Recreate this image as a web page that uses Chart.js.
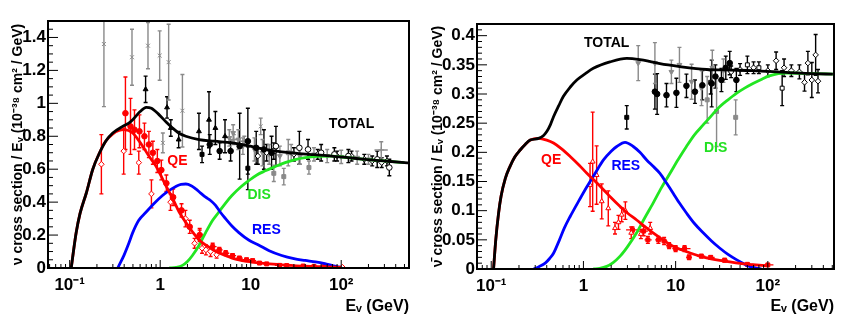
<!DOCTYPE html>
<html>
<head>
<meta charset="utf-8">
<script src="https://cdn.jsdelivr.net/npm/chart.js@4.4.0/dist/chart.umd.min.js"></script>
<style>
  html, body { margin: 0; padding: 0; background: #fff; }
  #wrap { position: relative; width: 850px; height: 324px; }
  .panel { position: absolute; top: 0; height: 324px; }
  #nuPanel { left: 0; width: 420px; }
  #nubarPanel { left: 420px; width: 430px; }
</style>
</head>
<body>
<div id="wrap">
  <div class="panel" id="nuPanel"><canvas id="nuChart"></canvas></div>
  <div class="panel" id="nubarPanel"><canvas id="nubarChart"></canvas></div>
</div>
<script>
const FONT = "'Liberation Sans', Arial, sans-serif";

// energy axis, shared by both panels
const energyTicks = [0.1, 1, 10, 100];
const energyTickLabels = ["10⁻¹", "1", "10", "10²"];

// ---------- neutrino panel ----------
const nuYTicks = [0, 0.2, 0.4, 0.6, 0.8, 1, 1.2, 1.4];

// model curves [E, sigma/E]
const nuTotal = [
  [0.104, 0], [0.11, 0.1], [0.118, 0.215], [0.13, 0.33], [0.153, 0.457], [0.18, 0.6],
  [0.214, 0.7], [0.25, 0.77], [0.299, 0.82], [0.385, 0.86], [0.45, 0.88], [0.497, 0.9],
  [0.6, 0.95], [0.7, 0.976], [0.8, 0.97], [0.975, 0.93], [1.17, 0.885], [1.37, 0.85],
  [1.6, 0.82], [1.92, 0.8], [2.68, 0.78], [4, 0.77], [6.2, 0.76], [9, 0.745],
  [14.5, 0.72], [22, 0.705], [33.7, 0.695], [50, 0.688], [78.6, 0.68], [120, 0.67],
  [183, 0.66], [300, 0.65], [500, 0.64], [560, 0.638]
];
const nuQE = [
  [0.104, 0], [0.11, 0.1], [0.118, 0.215], [0.13, 0.33], [0.153, 0.457], [0.18, 0.6],
  [0.214, 0.7], [0.25, 0.77], [0.3, 0.815], [0.35, 0.835], [0.4, 0.84], [0.497, 0.82],
  [0.57, 0.78], [0.64, 0.74], [0.75, 0.68], [0.897, 0.62], [1.0, 0.57], [1.155, 0.5],
  [1.38, 0.42], [1.62, 0.34], [1.9, 0.28], [2.27, 0.22], [2.7, 0.17], [3.18, 0.14],
  [4, 0.105], [5.27, 0.076], [7, 0.052], [10.3, 0.036], [15, 0.026], [24, 0.018],
  [40, 0.011], [65, 0.007], [100, 0.004]
];
const nuRES = [
  [0.34, 0], [0.4, 0.08], [0.45, 0.15], [0.497, 0.215], [0.58, 0.29], [0.7, 0.34],
  [0.85, 0.39], [1.06, 0.44], [1.25, 0.47], [1.49, 0.495], [1.7, 0.508], [1.92, 0.51],
  [2.2, 0.5], [2.47, 0.48], [2.8, 0.455], [3.18, 0.43], [3.6, 0.41], [4.09, 0.38],
  [4.6, 0.34], [5.27, 0.3], [6.2, 0.255], [7.4, 0.215], [9.5, 0.17], [12.2, 0.14],
  [16, 0.105], [22, 0.076], [30, 0.057], [39.9, 0.046], [52, 0.037], [66, 0.026],
  [80, 0.015], [100, 0.004]
];
const nuDIS = [
  [1.26, 0], [1.5, 0.004], [1.76, 0.016], [2.0, 0.04], [2.27, 0.076], [2.7, 0.14],
  [3.18, 0.215], [3.8, 0.29], [4.45, 0.34], [5.2, 0.39], [6.2, 0.44], [7.7, 0.49],
  [9.5, 0.53], [11.7, 0.565], [14.5, 0.59], [18.5, 0.615], [24, 0.64], [31, 0.658],
  [39.9, 0.67], [55, 0.678], [78.6, 0.68], [120, 0.67], [183, 0.66], [300, 0.65], [500, 0.64]
];

// measurements [E, value, error, (E low, E high)]
const nuGreyX = [
  [0.239, 1.36, 0.38], [0.488, 1.28, 0.17], [0.733, 1.35, 0.14], [0.987, 1.29, 0.15],
  [1.24, 1.25, 0.23], [1.76, 0.955, 0.22], [1.07, 0.76, 0.06], [12.9, 0.86, 0.05]
];
const nuBlackTri = [
  [0.69, 1.085, 0.08], [1.19, 0.975, 0.065], [1.31, 0.85, 0.05], [1.6, 0.78, 0.05],
  [2.68, 0.83, 0.11], [3.46, 0.9, 0.17], [4.07, 0.85, 0.1], [5.2, 0.8, 0.1]
];
const nuBlackDot = [
  [3.53, 0.75, 0.06], [4.54, 0.71, 0.05], [6.0, 0.71, 0.06], [7.55, 0.74, 0.2],
  [9.3, 0.77, 0.2], [11.5, 0.73, 0.1], [14, 0.72, 0.12], [17, 0.7, 0.1]
];
const nuBlackSq = [[2.9, 0.69, 0.05], [9.3, 0.606, 0.13]];
const nuGreyTriDown = [
  [5.8, 0.79, 0.05], [6.4, 0.82, 0.05], [7.3, 0.78, 0.06], [8.2, 0.74, 0.05],
  [11, 0.72, 0.07], [13.5, 0.7, 0.08], [16, 0.69, 0.06], [21, 0.68, 0.06],
  [28, 0.7, 0.05], [35, 0.68, 0.05], [50, 0.69, 0.04], [70, 0.68, 0.04],
  [100, 0.675, 0.04], [150, 0.67, 0.04], [200, 0.66, 0.03]
];
const nuGreySq = [[18, 0.575, 0.05], [23.2, 0.555, 0.05], [44, 0.61, 0.04], [26, 0.7, 0.08]];
const nuOpenDot = [
  [18, 0.71, 0.05], [19, 0.74, 0.12], [34.5, 0.73, 0.1], [43, 0.72, 0.06], [60, 0.7, 0.05],
  [84, 0.69, 0.04], [120, 0.68, 0.04], [250, 0.66, 0.05], [340, 0.61, 0.05]
];
const nuOpenDiamond = [
  [12, 0.68, 0.05], [15, 0.7, 0.05], [30, 0.69, 0.04], [55, 0.69, 0.03], [90, 0.68, 0.03],
  [130, 0.68, 0.03], [180, 0.66, 0.03], [220, 0.65, 0.03], [280, 0.64, 0.03], [320, 0.65, 0.03]
];
const nuGreyPlus = [[277, 0.717, 0.05, 233, 327], [6.5, 0.78, 0.03, 5.8, 7.3], [8.5, 0.77, 0.03, 7.6, 9.5]];
const nuQeDot = [
  [0.413, 0.94, 0.22], [0.47, 0.86, 0.17], [0.52, 0.84, 0.12], [0.59, 0.83, 0.1],
  [0.67, 0.8, 0.08], [0.75, 0.75, 0.08], [0.83, 0.7, 0.07], [0.93, 0.65, 0.07],
  [1.03, 0.595, 0.06], [1.17, 0.515, 0.05], [1.39, 0.43, 0.05], [1.72, 0.35, 0.04],
  [2.12, 0.25, 0.04], [2.73, 0.2, 0.03]
];
const nuQeOpen = [
  [0.224, 0.63, 0.18], [0.395, 0.71, 0.14], [0.58, 0.64, 0.07], [0.8, 0.45, 0.085],
  [1.3, 0.4, 0.05], [1.9, 0.3, 0.05], [2.4, 0.15, 0.03], [2.73, 0.2, 0.04],
  [2.9, 0.12, 0.03], [3.2, 0.11, 0.03], [3.6, 0.1, 0.03], [4.2, 0.08, 0.02], [103, 0.005, 0]
];
const nuQeTail = [
  [3.8, 0.13, 0.02, 3.5, 4.2], [4.5, 0.11, 0.015, 4.1, 4.9], [5.3, 0.09, 0.015, 4.9, 5.8],
  [6.3, 0.075, 0.012, 5.8, 6.9], [7.5, 0.06, 0.01, 6.9, 8.2], [9, 0.05, 0.01, 8.2, 9.9],
  [10.5, 0.045, 0.008, 9.9, 11.5], [12.5, 0.03, 0.008, 11.5, 13.8], [15, 0.025, 0.006, 13.8, 16.5],
  [20.8, 0.016, 0.005, 18.5, 23], [25, 0.015, 0.005, 23, 28], [38, 0.012, 0.004, 34, 42],
  [50, 0.01, 0.004, 45, 55], [65, 0.01, 0.004, 58, 72]
];
const nuLabels = [
  ["TOTAL", 130, 0.875, "#000"], ["QE", 1.55, 0.65, "#ff0000"],
  ["DIS", 12.4, 0.444, "#22e022"], ["RES", 14.9, 0.228, "#0000ff"]
];

// ---------- antineutrino panel ----------
const nubarYTicks = [0, 0.05, 0.1, 0.15, 0.2, 0.25, 0.3, 0.35, 0.4];

const nubarTotal = [
  [0.106, 0], [0.112, 0.05], [0.12, 0.095], [0.128, 0.125], [0.142, 0.155], [0.16, 0.176],
  [0.18, 0.192], [0.206, 0.204], [0.235, 0.214], [0.265, 0.221], [0.326, 0.224], [0.37, 0.229],
  [0.402, 0.236], [0.44, 0.248], [0.474, 0.261], [0.54, 0.28], [0.607, 0.296], [0.72, 0.312],
  [0.848, 0.324], [1.05, 0.335], [1.28, 0.344], [1.94, 0.355], [2.95, 0.361], [4.1, 0.359],
  [5.2, 0.356], [6.76, 0.352], [11.1, 0.347], [21.7, 0.342], [40, 0.341], [69, 0.34],
  [158, 0.337], [300, 0.335], [507, 0.334]
];
const nubarQE = [
  [0.106, 0], [0.112, 0.05], [0.12, 0.095], [0.128, 0.125], [0.142, 0.155], [0.16, 0.176],
  [0.18, 0.192], [0.206, 0.204], [0.235, 0.214], [0.265, 0.221], [0.326, 0.224], [0.4, 0.221],
  [0.474, 0.216], [0.58, 0.206], [0.718, 0.193], [0.9, 0.178], [1.09, 0.164], [1.35, 0.15],
  [1.65, 0.136], [2.0, 0.122], [2.5, 0.107], [3.0, 0.096], [3.78, 0.084], [4.6, 0.073],
  [5.7, 0.062], [7.3, 0.05], [9.4, 0.039], [13, 0.03], [18.3, 0.022], [25, 0.017],
  [35.7, 0.013], [50, 0.0095], [69, 0.0075], [96, 0.0055]
];
const nubarRES = [
  [0.288, 0], [0.33, 0.004], [0.385, 0.01], [0.43, 0.018], [0.474, 0.027], [0.55, 0.05],
  [0.62, 0.07], [0.718, 0.09], [0.9, 0.118], [1.09, 0.141], [1.35, 0.165], [1.65, 0.187],
  [2.0, 0.202], [2.3, 0.21], [2.83, 0.217], [3.47, 0.21], [4.1, 0.2], [4.85, 0.187],
  [5.7, 0.176], [6.76, 0.164], [8, 0.147], [9.4, 0.13], [11, 0.113], [13.1, 0.096],
  [16, 0.078], [19.9, 0.062], [24.5, 0.048], [30, 0.036], [37, 0.025], [45.6, 0.016],
  [55, 0.009], [63.3, 0.0045], [75, 0.0015], [85, 0]
];
const nubarDIS = [
  [1.28, 0], [1.5, 0.001], [1.79, 0.0045], [2.1, 0.011], [2.5, 0.022], [3.0, 0.038],
  [3.78, 0.062], [4.6, 0.087], [5.7, 0.113], [7.0, 0.139], [8.7, 0.164], [10.7, 0.188],
  [13.1, 0.21], [16, 0.23], [19.9, 0.247], [24.5, 0.263], [30, 0.278], [37, 0.29],
  [45.6, 0.301], [56, 0.31], [69, 0.318], [85, 0.325], [104, 0.331], [130, 0.335],
  [158, 0.336], [300, 0.335], [507, 0.334]
];

const nubarBlackSq = [[2.95, 0.26, 0.02]];
const nubarGreyTriDown = [
  [3.93, 0.353, 0.03], [5.96, 0.353, 0.035], [9.0, 0.338, 0.02], [11, 0.35, 0.03],
  [14.9, 0.321, 0.03], [19.1, 0.31, 0.03], [25, 0.345, 0.03], [33, 0.34, 0.02]
];
const nubarBlackDot = [
  [5.96, 0.304, 0.03], [6.3, 0.3, 0.035], [7.96, 0.298, 0.02], [10.2, 0.302, 0.025],
  [13.1, 0.314, 0.02], [16.2, 0.304, 0.02], [19.5, 0.315, 0.025], [24.6, 0.318, 0.04],
  [27, 0.33, 0.02], [31.4, 0.324, 0.02], [35, 0.345, 0.02], [38.6, 0.353, 0.02], [45.6, 0.324, 0.02]
];
const nubarGreySq = [[22, 0.29, 0.04], [27.8, 0.27, 0.06], [44.8, 0.26, 0.03]];
const nubarOpenSq = [[24, 0.32, 0.02], [60, 0.35, 0.015], [80, 0.345, 0.01], [143, 0.31, 0.03]];
const nubarOpenDiamond = [
  [40, 0.338, 0.01], [50, 0.342, 0.01], [70, 0.345, 0.01], [100, 0.34, 0.01],
  [123, 0.357, 0.015], [150, 0.345, 0.015], [180, 0.34, 0.01], [220, 0.338, 0.012],
  [250, 0.32, 0.015], [272, 0.353, 0.02], [300, 0.324, 0.03], [330, 0.367, 0.035], [350, 0.322, 0.02]
];
const nubarQeOpenTri = [
  [1.18, 0.144, 0.037], [1.26, 0.184, 0.085], [1.39, 0.161, 0.05], [1.58, 0.116, 0.03],
  [1.86, 0.104, 0.03], [2.2, 0.07, 0.01], [2.4, 0.08, 0.012], [2.6, 0.093, 0.012],
  [2.85, 0.1, 0.015], [3.3, 0.062, 0.01], [4.2, 0.06, 0.008], [5.3, 0.07, 0.01]
];
const nubarQeDot = [
  [3.4, 0.067, 0.005, 2.9, 4.0], [4.5, 0.065, 0.008, 4.0, 5.0], [5.0, 0.05, 0.006, 4.6, 5.5],
  [6.5, 0.05, 0.006, 6.0, 7.0], [7.5, 0.048, 0.006, 7.0, 8.1], [8.5, 0.04, 0.005, 7.9, 9.2],
  [10, 0.035, 0.005, 9.2, 10.9], [12.5, 0.035, 0.005, 10.5, 14.5], [14, 0.02, 0.004, 13, 15],
  [19, 0.022, 0.003, 17, 21], [24, 0.02, 0.003, 21.5, 26.5], [34, 0.015, 0.003, 31, 37],
  [60, 0.008, 0.002, 50, 70], [100, 0.007, 0.002, 85, 115]
];
const nubarLabels = [
  ["TOTAL", 1.79, 0.387, "#000"], ["QE", 0.447, 0.187, "#ff0000"],
  ["RES", 2.88, 0.177, "#0000ff"], ["DIS", 27.1, 0.208, "#22e022"]
];

// ---------- helpers ----------
function toPoints(rows) {
  return rows.map((r) => ({ x: r[0], y: r[1], yErr: r[2] || 0, xLo: r[3], xHi: r[4] }));
}

function curve(rows, color) {
  return {
    data: toPoints(rows),
    showLine: true,
    borderColor: color,
    borderWidth: 2.8,
    pointRadius: 0,
    cubicInterpolationMode: "monotone",
    fill: false,
  };
}

function markers(rows, color, style, open, rotation) {
  return {
    data: toPoints(rows),
    errorBars: true,
    pointStyle: style,
    pointRadius: 2.8,
    pointRotation: rotation || 0,
    borderColor: color,
    backgroundColor: open ? "#fff" : color,
    borderWidth: 1,
  };
}

const errorBarPlugin = {
  id: "errorBars",
  beforeDatasetsDraw(chart) {
    const { ctx, chartArea: a, scales } = chart;
    const x = scales.x, y = scales.y;
    ctx.save();
    ctx.beginPath();
    ctx.rect(a.left, a.top, a.width, a.height);
    ctx.clip();
    ctx.lineWidth = 1.4;
    chart.data.datasets.forEach((ds) => {
      if (!ds.errorBars) return;
      ctx.strokeStyle = ds.borderColor;
      ds.data.forEach((p) => {
        const px = x.getPixelForValue(p.x);
        const py = y.getPixelForValue(p.y);
        ctx.beginPath();
        if (p.yErr) {
          const top = y.getPixelForValue(p.y + p.yErr);
          const bot = y.getPixelForValue(p.y - p.yErr);
          ctx.moveTo(px, top); ctx.lineTo(px, bot);
          ctx.moveTo(px - 2, top); ctx.lineTo(px + 2, top);
          ctx.moveTo(px - 2, bot); ctx.lineTo(px + 2, bot);
        }
        if (p.xLo) {
          ctx.moveTo(x.getPixelForValue(p.xLo), py);
          ctx.lineTo(x.getPixelForValue(p.xHi), py);
        }
        ctx.stroke();
      });
    });
    ctx.restore();
  },
};

// ROOT style frame with inward ticks
function framePlugin(minorStep, majorEvery) {
  return {
    id: "frameTicks",
    afterDraw(chart) {
      const { ctx, chartArea: a, scales } = chart;
      const x = scales.x, y = scales.y;
      ctx.save();
      ctx.strokeStyle = "#000";
      ctx.lineWidth = 1;
      ctx.beginPath();
      for (let e = -2; e <= 3; e++) {
        for (let k = 1; k <= 9; k++) {
          const v = k * Math.pow(10, e);
          if (v <= x.min || v >= x.max) continue;
          const px = x.getPixelForValue(v);
          ctx.moveTo(px, a.bottom);
          ctx.lineTo(px, a.bottom - (k === 1 ? 8 : 4));
        }
      }
      for (let i = 0; i * minorStep <= y.max + 1e-9; i++) {
        const py = y.getPixelForValue(i * minorStep);
        ctx.moveTo(a.left, py);
        ctx.lineTo(a.left + (i % majorEvery === 0 ? 10 : 5), py);
      }
      ctx.stroke();
      ctx.lineWidth = 2;
      ctx.strokeRect(a.left, a.top, a.width, a.height);
      ctx.restore();
    },
  };
}

function labelPlugin(labels) {
  return {
    id: "curveLabels",
    afterDatasetsDraw(chart) {
      const { ctx, scales } = chart;
      ctx.save();
      ctx.font = "bold 14px " + FONT;
      ctx.textAlign = "center";
      ctx.textBaseline = "middle";
      labels.forEach((l) => {
        ctx.fillStyle = l[3];
        ctx.fillText(l[0], scales.x.getPixelForValue(l[1]), scales.y.getPixelForValue(l[2]));
      });
      ctx.restore();
    },
  };
}

function buildPanel(canvasId, cfg) {
  const tickFont = { family: FONT, size: 17, weight: "bold" };
  return new Chart(document.getElementById(canvasId), {
    type: "scatter",
    data: { datasets: cfg.datasets },
    options: {
      responsive: true,
      maintainAspectRatio: false,
      animation: false,
      layout: { padding: cfg.padding },
      plugins: { legend: { display: false }, tooltip: { enabled: false } },
      scales: {
        x: {
          type: "logarithmic",
          min: cfg.xMin,
          max: cfg.xMax,
          bounds: "data",
          grid: { display: false, drawTicks: false },
          border: { display: false },
          afterBuildTicks: (s) => { s.ticks = energyTicks.map((v) => ({ value: v })); },
          afterFit: (s) => { s.height = cfg.xHeight; },
          ticks: {
            autoSkip: false, maxRotation: 0, padding: 7, color: "#000", font: tickFont,
            callback: (v) => energyTickLabels[energyTicks.indexOf(v)] || "",
          },
          title: {
            display: true, text: "Eᵥ (GeV)", align: "end", color: "#000",
            font: { family: FONT, size: 16, weight: "bold" }, padding: { top: 0, bottom: 8 },
          },
        },
        y: {
          min: 0,
          max: cfg.yMax,
          bounds: "data",
          grid: { display: false, drawTicks: false },
          border: { display: false },
          afterBuildTicks: (s) => { s.ticks = cfg.yTicks.map((v) => ({ value: v })); },
          afterFit: (s) => { s.width = cfg.yWidth; },
          ticks: {
            padding: 2, color: "#000", font: tickFont,
            callback: (v) => String(Math.round(v * 100) / 100),
          },
          title: {
            display: true, text: cfg.yTitle, color: "#000",
            font: { family: FONT, size: 14, weight: "bold" }, padding: { top: 10, bottom: 0 },
          },
        },
      },
    },
    plugins: [errorBarPlugin, framePlugin(cfg.minorStep, cfg.majorEvery), labelPlugin(cfg.labels)],
  });
}

const RED = "#ff0000", GREY = "#8a8a8a", BLACK = "#000";

buildPanel("nuChart", {
  xMin: 0.0576, xMax: 561, yMax: 1.5, yTicks: nuYTicks,
  minorStep: 0.05, majorEvery: 4,
  padding: { top: 21, right: 11, left: 0, bottom: 0 }, yWidth: 48, xHeight: 56,
  yTitle: "ν cross section / Eᵥ (10⁻³⁸ cm² / GeV)",
  labels: nuLabels,
  datasets: [
    curve(nuTotal, BLACK), curve(nuQE, RED), curve(nuRES, "#0000ff"), curve(nuDIS, "#22e622"),
    markers(nuQeDot, RED, "circle", false),
    markers(nuQeOpen, RED, "rectRot", true),
    markers(nuQeTail, RED, "rect", false),
    markers(nuBlackTri, BLACK, "triangle", false),
    markers(nuBlackDot, BLACK, "circle", false),
    markers(nuBlackSq, BLACK, "rect", false),
    markers(nuOpenDot, BLACK, "circle", true),
    markers(nuOpenDiamond, BLACK, "rectRot", true),
    markers(nuGreyTriDown, GREY, "triangle", false, 180),
    markers(nuGreySq, GREY, "rect", false),
    markers(nuGreyPlus, GREY, "cross", false),
    markers(nuGreyX, GREY, "crossRot", false),
  ],
});

buildPanel("nubarChart", {
  xMin: 0.0701, xMax: 522, yMax: 0.42, yTicks: nubarYTicks,
  minorStep: 0.01, majorEvery: 5,
  padding: { top: 24, right: 16, left: 0, bottom: 0 }, yWidth: 57, xHeight: 55,
  yTitle: "ν̄ cross section / Eᵥ (10⁻³⁸ cm² / GeV)",
  labels: nubarLabels,
  datasets: [
    curve(nubarTotal, BLACK), curve(nubarQE, RED), curve(nubarRES, "#0000ff"), curve(nubarDIS, "#22e622"),
    markers(nubarQeOpenTri, RED, "triangle", true),
    markers(nubarQeDot, RED, "rect", false),
    markers(nubarBlackSq, BLACK, "rect", false),
    markers(nubarBlackDot, BLACK, "circle", false),
    markers(nubarOpenSq, BLACK, "rect", true),
    markers(nubarOpenDiamond, BLACK, "rectRot", true),
    markers(nubarGreyTriDown, GREY, "triangle", false, 180),
    markers(nubarGreySq, GREY, "rect", false),
  ],
});
</script>
</body>
</html>
